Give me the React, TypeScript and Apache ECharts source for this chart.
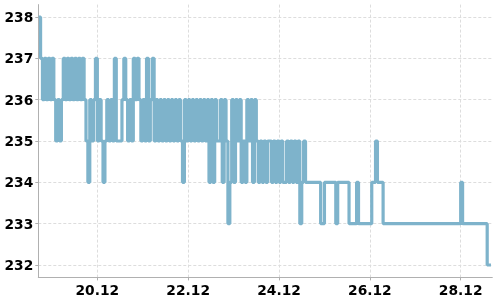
import React, { useEffect, useRef } from "react";
import * as echarts from "echarts";

// Hourly readings; first reading at hour 17 after 18.12 00:00
const startHour = 17;
const values: number[] = [
  // h17-29
  238, 237, 236, 237, 236, 237, 236, 237, 236, 235, 236, 235, 236,
  // h30-47
  237, 236, 237, 236, 237, 236, 237, 236, 237, 236, 237, 236, 235, 234, 236, 235, 236, 237,
  // h48-66
  235, 236, 235, 234, 235, 236, 235, 236, 235, 237, 235, 235, 235, 236, 237, 236, 235, 236, 235,
  // h67-89
  237, 236, 237, 236, 235, 236, 235, 237, 235, 236, 237, 235, 236, 235, 236, 235, 236, 235, 236, 235, 236, 235, 236,
  // h90-112
  235, 236, 235, 234, 236, 235, 236, 235, 236, 235, 236, 235, 236, 235, 236, 235, 236, 234, 236, 234, 236, 235, 235,
  // h113-141
  236, 234, 236, 235, 233, 234, 236, 234, 236, 235, 236, 234, 235, 234, 236, 235, 236, 234, 236, 235, 234, 235, 234, 235, 234, 235, 235, 234, 235,
  // h142-158
  234, 235, 234, 235, 234, 234, 235, 234, 235, 234, 235, 234, 235, 233, 234, 235, 234,
  // h159-180
  234, 234, 234, 234, 234, 234, 234, 233, 233, 234, 234, 234, 234, 234, 234, 233, 234, 234, 234, 234, 234, 234,
  // h181-198
  233, 233, 233, 233, 234, 233, 233, 233, 233, 233, 233, 233, 234, 234, 235, 234, 234, 234,
  // h199-239
  233, 233, 233, 233, 233, 233, 233, 233, 233, 233, 233, 233, 233, 233, 233, 233, 233, 233, 233, 233,
  233, 233, 233, 233, 233, 233, 233, 233, 233, 233, 233, 233, 233, 233, 233, 233, 233, 233, 233, 233, 233,
  // h240-256
  234, 233, 233, 233, 233, 233, 233, 233, 233, 233, 233, 233, 233, 233, 232, 232, 232,
];

const xTickHours = [48, 96, 144, 192, 240];
const yTicks = [232, 233, 234, 235, 236, 237, 238];

export default function App() {
  const ref = useRef<HTMLDivElement>(null);
  useEffect(() => {
    if (!ref.current) return;
    const chart = echarts.init(ref.current, null, { renderer: "svg" });
    const data = values.map((v, i) => [startHour + i, v]);
    const labelStyle = {
      color: "#000",
      fontFamily: "DejaVu Sans",
      fontWeight: "bold" as const,
      fontSize: 13.8,
    };
    chart.setOption({
      animation: false,
      grid: { left: 38.3, right: 7.7, top: 4.6, bottom: 22.6 },
      xAxis: {
        type: "value",
        min: 16.8,
        max: 256.7,
        axisLine: { show: true, lineStyle: { color: "#b0b0b0", width: 1 } },
        axisTick: {
          show: true,
          length: 3,
          customValues: xTickHours,
          lineStyle: { color: "#b0b0b0" },
        },
        axisLabel: {
          ...labelStyle,
          margin: 6,
          customValues: xTickHours,
          formatter: (h: number) => {
            const d = 18 + Math.round(h / 24);
            return d + ".12";
          },
        },
        splitLine: {
          show: true,
          lineStyle: { color: "#dddddd", type: [3, 2], width: 1 },
        },
      },
      yAxis: {
        type: "value",
        min: 231.7,
        max: 238.3,
        axisLine: { show: true, lineStyle: { color: "#b0b0b0", width: 1 } },
        axisTick: {
          show: true,
          length: 3,
          customValues: yTicks,
          lineStyle: { color: "#b0b0b0" },
        },
        axisLabel: {
          ...labelStyle,
          margin: 5,
          customValues: yTicks,
        },
        splitLine: {
          show: true,
          lineStyle: { color: "#dddddd", type: [3, 2], width: 1 },
        },
      },
      series: [
        {
          type: "line",
          data,
          step: "end",
          showSymbol: false,
          symbol: "none",
          lineStyle: { color: "#7eb3cb", width: 3.2 },
        },
      ],
    });
    return () => chart.dispose();
  }, []);
  return (
    <div
      ref={ref}
      style={{ position: "fixed", left: 0, top: 0, width: 500, height: 300 }}
    />
  );
}
